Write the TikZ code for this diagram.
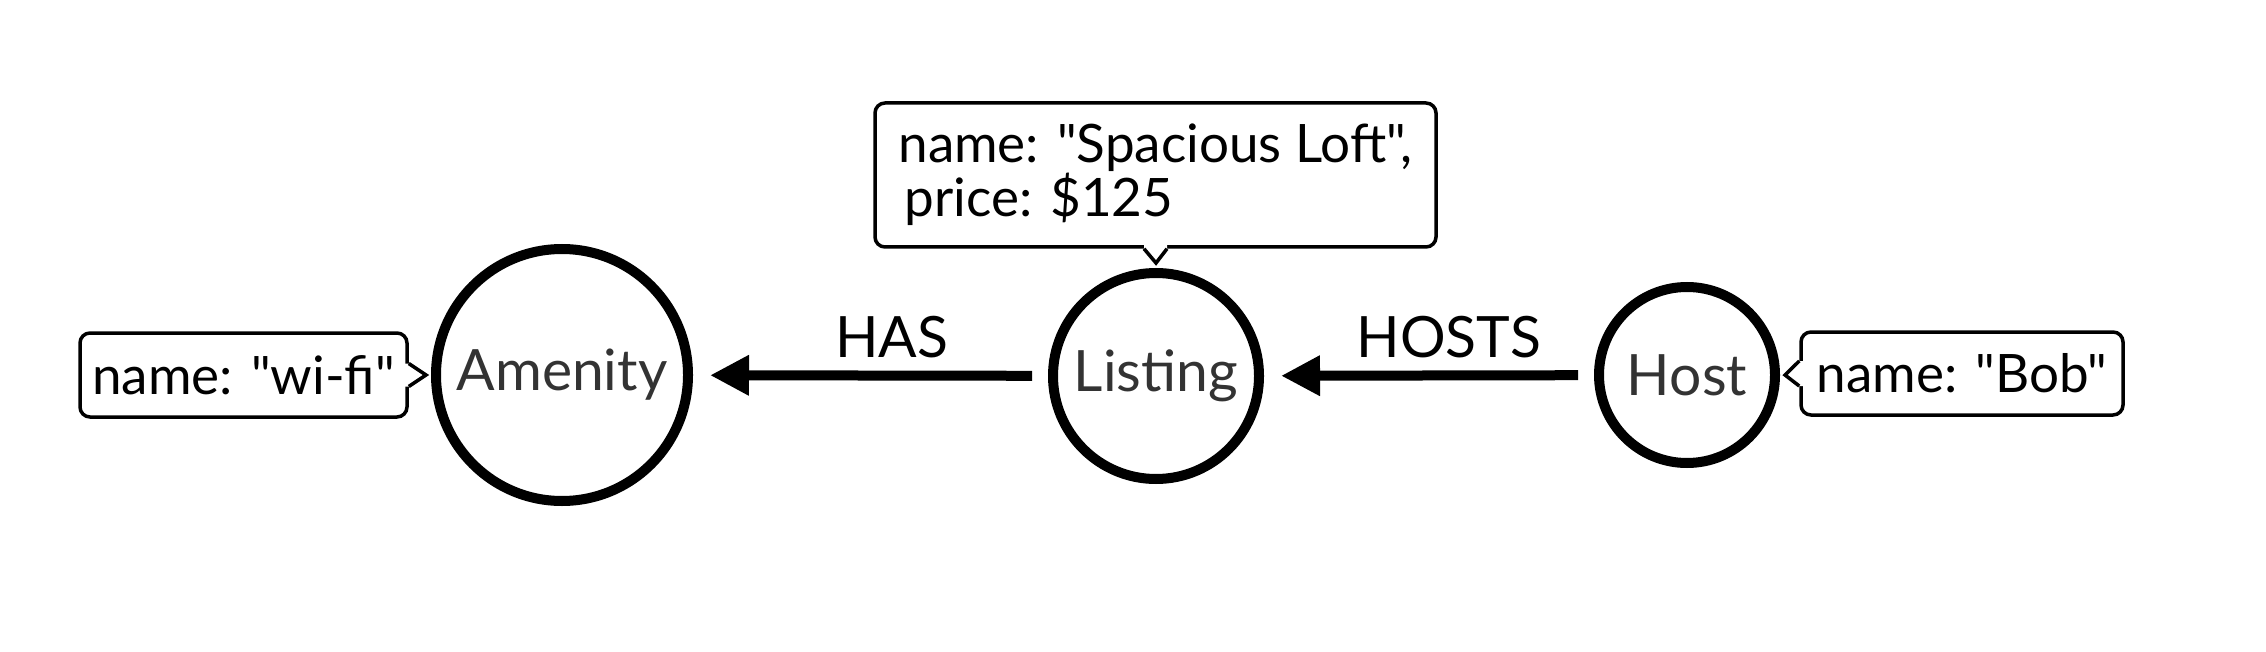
\documentclass[tikz,border=0pt]{standalone}
\usepackage{fontspec}
\setmainfont{Lato}[Ligatures=TeXOff]
\usetikzlibrary{arrows.meta}
\definecolor{labelgray}{HTML}{333333}
\begin{document}
\begin{tikzpicture}[x=1pt,y=-1pt,
  entity/.style={circle, draw=black, line width=10pt, text=labelgray, font=\fontsize{57}{62}\selectfont, inner sep=0pt},
  props/.style={draw=black, line width=3.5pt, rounded corners=10pt, fill=white, font=\fontsize{53}{54}\selectfont, inner sep=0pt, align=left},
  pointer/.style={draw=black, line width=3.5pt, line join=miter},
  rel/.style={line width=10pt, -{Triangle[length=39pt,width=38pt]}, shorten >=17pt, shorten <=16pt},
  rellabel/.style={font=\fontsize{57}{60}\selectfont, inner sep=0pt, anchor=base}]
\useasboundingbox (0,0) rectangle (2266,652);
% entities
\node[entity, minimum size=252pt] (amenity) at (562,375) {Amenity};
\node[entity, minimum size=206pt] (listing) at (1156,376) {Listing};
\node[entity, minimum size=176pt] (host) at (1687,375) {Host};
% relationships
\draw[rel] (listing) -- (amenity) node[rellabel, pos=0.44, yshift=18pt] (haslbl) {HAS};
\draw[rel] (host) -- (listing) node[rellabel, pos=0.44, yshift=18pt] (hostslbl) {HOSTS};
% property callouts
\node[props, minimum width=327pt, minimum height=84pt] (wifi) at (243.5,375) {name: "wi-fi"};
\node[props, minimum width=561pt, minimum height=144pt] (loft) at (1155.5,175) {name: "Spacious Loft",\\\hspace{6pt}price: \$125};
\node[props, minimum width=322pt, minimum height=83pt] (bob) at (1962,373.5) {name: "Bob"};
% pointers
\fill[white] ([shift={(-4pt,11.5pt)}]wifi.east) -- ([shift={(0pt,11.5pt)}]wifi.east) -- ([xshift=-5pt]amenity.west) -- ([shift={(0pt,-11.5pt)}]wifi.east) -- ([shift={(-4pt,-11.5pt)}]wifi.east) -- cycle;
\draw[pointer] ([yshift=11.5pt]wifi.east) -- ([xshift=-5pt]amenity.west) -- ([yshift=-11.5pt]wifi.east);
\fill[white] ([shift={(-11.5pt,4pt)}]loft.south) -- ([shift={(-11.5pt,0pt)}]loft.south) -- ([yshift=5pt]listing.north) -- ([shift={(11.5pt,0pt)}]loft.south) -- ([shift={(11.5pt,4pt)}]loft.south) -- cycle;
\draw[pointer] ([xshift=-11.5pt]loft.south) -- ([yshift=5pt]listing.north) -- ([xshift=11.5pt]loft.south);
\fill[white] ([shift={(4pt,12.5pt)}]bob.west) -- ([shift={(0pt,12.5pt)}]bob.west) -- ([xshift=5pt]host.east) -- ([shift={(0pt,-12.5pt)}]bob.west) -- ([shift={(4pt,-12.5pt)}]bob.west) -- cycle;
\draw[pointer] ([yshift=12.5pt]bob.west) -- ([xshift=5pt]host.east) -- ([yshift=-12.5pt]bob.west);
\end{tikzpicture}
\end{document}
